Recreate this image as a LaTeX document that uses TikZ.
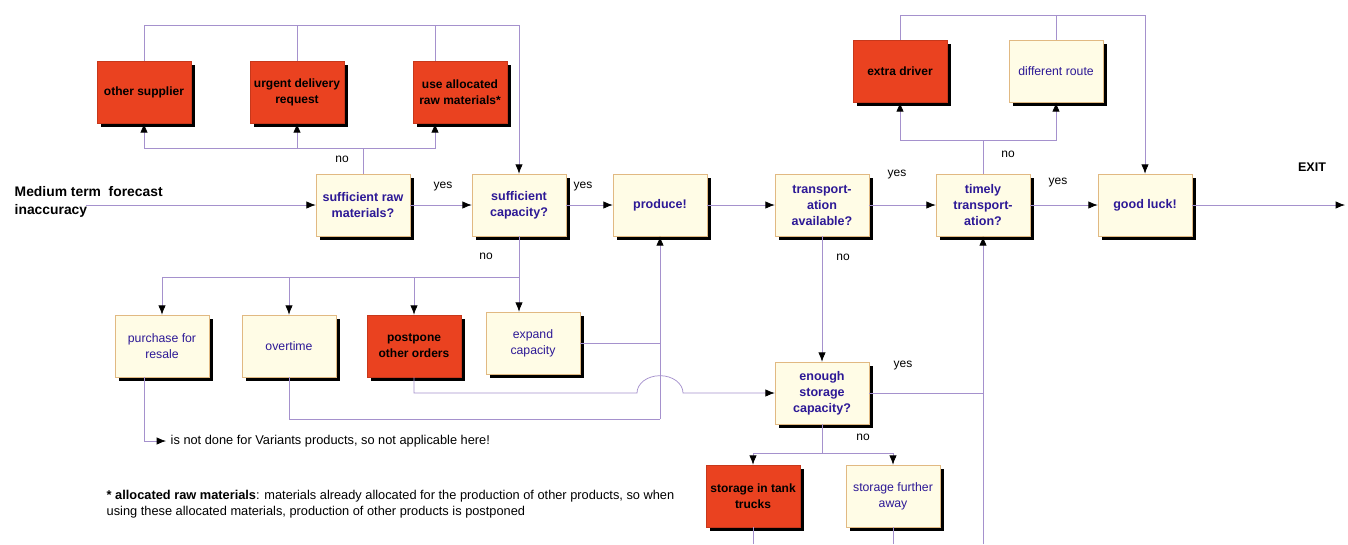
\documentclass[tikz,border=0pt]{standalone}
\usepackage{fontspec}
\setmainfont{Liberation Sans}
\usetikzlibrary{arrows.meta,shadows,calc}
\definecolor{boxred}{RGB}{234,66,32}
\definecolor{boxcream}{RGB}{255,252,230}
\definecolor{boxrim}{RGB}{225,185,130}
\definecolor{inkblue}{RGB}{45,25,150}
\definecolor{wire}{RGB}{165,145,205}
\tikzstyle{basebox}=[rectangle, minimum width=70.5pt, minimum height=46.5pt, inner sep=1pt, align=center,
    general shadow={fill=black, shadow xshift=3pt, shadow yshift=-3pt}]
\tikzstyle{query}=[basebox, fill=boxcream, draw=boxrim, text=inkblue, font=\fontsize{9.4}{12}\selectfont\bfseries]
\tikzstyle{altbox}=[basebox, fill=boxcream, draw=boxrim, text=inkblue, font=\fontsize{9.2}{12}\selectfont]
\tikzstyle{remedy}=[basebox, fill=boxred, draw=boxred!85!black, text=black, font=\fontsize{9}{12}\selectfont\bfseries]
\newcommand{\query}{\node[query]}
\newcommand{\altbox}{\node[altbox]}
\newcommand{\remedy}{\node[remedy]}

\begin{document}
\begin{tikzpicture}[x=0.75pt, y=-0.75pt
    ,link/.style={draw=wire, line width=0.55pt}
    ,flow/.style={link, -{Latex[color=black, length=7pt, width=5.5pt]}}
    ,tag/.style={font=\fontsize{9}{11}\selectfont}
]
\fill[white] (0,0) rectangle (1348,544);
\useasboundingbox (0,0) rectangle (1348,544);

\remedy (osup) at (144,92) {other supplier};
\remedy (urgent) at (297,92) {urgent delivery\\request};
\remedy (useal) at (460,92) {use allocated\\raw materials*};
\query (suffraw) at (363,205) {sufficient raw\\materials?};
\query (suffcap) at (519,205) {sufficient\\capacity?};
\query (produce) at (660,205) {produce!};
\query (transp) at (822,205) {transport-\\ation\\available?};
\query (timely) at (983,205) {timely\\transport-\\ation?};
\query (luck) at (1145,205) {good luck!};
\remedy (extra) at (900,71) {extra driver};
\altbox (route) at (1056,71) {different route};
\altbox (resale) at (162,346) {purchase for\\resale};
\altbox (overtime) at (289,346) {overtime};
\remedy (postpone) at (414,346) {postpone\\other orders};
\altbox (expand) at (533,343) {expand\\capacity};
\query (storage) at (822,393) {enough\\storage\\capacity?};
\remedy (tank) at (753,496) {storage in tank\\trucks};
\altbox (further) at (893,496) {storage further\\away};

\node[anchor=west, align=left, font=\fontsize{10.4}{13}\selectfont\bfseries] (forecast) at (10,202) {Medium term\ \ forecast\\inaccuracy};
\node[anchor=west, font=\fontsize{9.6}{11}\selectfont] (variants) at (166,441) {is not done for Variants products, so not applicable here!};
\node[anchor=north west, align=left, font=\fontsize{9.6}{12}\selectfont] (note) at (102,486)
    {\textbf{* allocated raw materials}: materials already allocated for the production of other products, so when\\
     using these allocated materials, production of other products is postponed};

\node[tag] (yes1) at (443,187) {yes};
\node[tag] (yes2) at (583,187) {yes};
\node[tag] (yes3) at (897,175) {yes};
\node[tag] (yes4) at (1058,183) {yes};
\node[tag] (yes5) at (903,366) {yes};
\node[tag] (no1) at (342,159) {no};
\node[tag] (no2) at (486,256) {no};
\node[tag] (no3) at (843,257) {no};
\node[tag] (no4) at (1008,154) {no};
\node[tag] (no5) at (863,437) {no};
\node[tag, font=\fontsize{9.4}{11}\selectfont\bfseries] (exit) at (1312,167) {EXIT};

% raw materials loop
\coordinate (rawlow) at (363,148);
\coordinate (rawtop) at (144,25);
\coordinate (useup) at ($(useal.north)+(-25,0)$);
\coordinate (usedown) at ($(useal.south)+(-25,0)$);
\draw[link] (suffraw.north) -- (rawlow);
\draw[flow] (rawlow) -| (osup.south);
\draw[flow] (rawlow) -| (urgent.south);
\draw[flow] (rawlow) -| (usedown);
\draw[flow] (osup.north) -- (rawtop) -| (suffcap.north);
\draw[link] (urgent.north) -- (urgent.north |- rawtop);
\draw[link] (useup) -- (useup |- rawtop);

% main row
\coordinate (fstart) at (86,205);
\coordinate (exitend) at (1345,205);
\draw[flow] (fstart) -- (suffraw.west);
\draw[flow] (suffraw.east) -- (suffcap.west);
\draw[flow] (suffcap.east) -- (produce.west);
\draw[flow] (produce.east) -- (transp.west);
\draw[flow] (transp.east) -- (timely.west);
\draw[flow] (timely.east) -- (luck.west);
\draw[flow] (luck.east) -- (exitend);

% capacity loop
\coordinate (caplow) at (519,277);
\coordinate (prodlow) at (660,419);
\coordinate (jump) at (637,393);
\coordinate (resaleout) at ($(resale.south)+(-18,0)$);
\draw[link] (suffcap.south) -- (caplow);
\draw[flow] (caplow) -| (resale.north);
\draw[flow] (caplow) -| (overtime.north);
\draw[flow] (caplow) -| (postpone.north);
\draw[flow] (caplow) -- (caplow |- expand.north);
\draw[link] (expand.east) -- (expand.east -| prodlow);
\draw[link] (overtime.south) |- (prodlow);
\draw[flow] (prodlow) -- (produce.south);
\draw[flow] (postpone.south) |- (jump) arc[start angle=180, end angle=0, x radius=17.25pt, y radius=13pt] -- (storage.west);
\draw[flow] (resaleout) |- (variants.west);

% transport and storage
\coordinate (timelylow) at (983,544);
\coordinate (storelow) at (822,453);
\coordinate (timelyup) at (983,140);
\coordinate (toptr) at (900,15);
\draw[flow] (transp.south) -- (storage.north);
\draw[flow] (timelylow) -- (timely.south);
\draw[link] (storage.east) -- (storage.east -| timelylow);
\draw[link] (storage.south) -- (storelow);
\draw[flow] (storelow) -| (tank.north);
\draw[flow] (storelow) -| (further.north);
\draw[link] (tank.south) -- (tank.south |- timelylow);
\draw[link] (further.south) -- (further.south |- timelylow);
\draw[link] (timely.north) -- (timelyup);
\draw[flow] (timelyup) -| (extra.south);
\draw[flow] (timelyup) -| (route.south);
\draw[flow] (extra.north) -- (toptr) -| (luck.north);
\draw[link] (route.north) -- (route.north |- toptr);
\end{tikzpicture}
\end{document}
